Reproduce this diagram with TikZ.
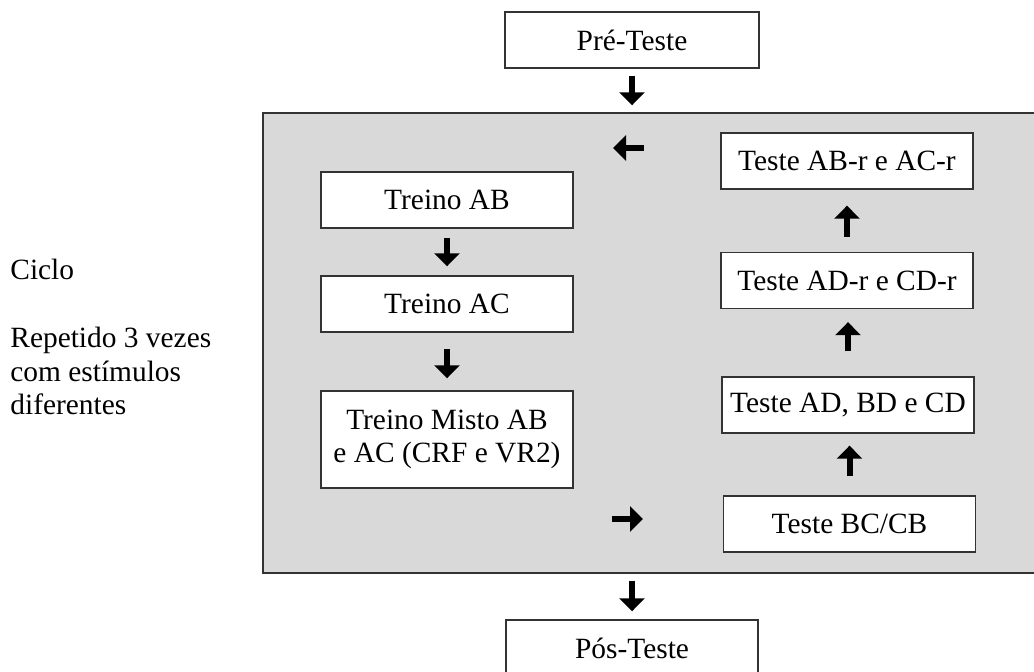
\documentclass[tikz,border=0pt]{standalone}
\usepackage{fontspec}
\setmainfont{Liberation Serif}
\usetikzlibrary{arrows.meta}

\definecolor{panelgray}{HTML}{D9D9D9}
\tikzset{
    stagebox/.style={draw=black!80, line width=0.7pt, fill=white, minimum width=126pt, minimum height=28pt, inner sep=0pt, align=center},
    flowarrow/.style={line width=3pt, -{Triangle[length=6.5pt,width=12.5pt]}}
}

\begin{document}
\begin{tikzpicture}[x=0.5pt, y=-0.5pt, font=\fontsize{14.7pt}{16.75pt}\selectfont]
    \useasboundingbox (0,0) rectangle (1034,672);

    % Draw the cycle panel
    \node[draw=black!80, line width=0.7pt, fill=panelgray, minimum width=388.5pt, minimum height=230pt, inner sep=0pt] (panel) at (651.5,343) {};

    % Draw the pre and post tests
    \node[stagebox, minimum width=127pt] (pre) at (632,40) {Pré-Teste};
    \node[stagebox] (pos) at (632,648) {Pós-Teste};

    % Draw the training boxes
    \node[stagebox] (ab) at (447,200) {Treino AB};
    \node[stagebox] (ac) at (447,304) {Treino AC};
    \node[stagebox, minimum height=48.5pt] (misto) at (447,439.5) {Treino Misto AB\\e AC (CRF e VR2)};

    % Draw the test boxes
    \node[stagebox] (abr) at (847,161) {Teste AB-r e AC-r};
    \node[stagebox] (adr) at (847,280.5) {Teste AD-r e CD-r};
    \node[stagebox] (adbd) at (848,405) {Teste AD, BD e CD};
    \node[stagebox] (bccb) at (849.5,524) {Teste BC/CB};

    % Label the cycle
    \node[anchor=base west, align=left, inner sep=0pt] (ciclo) at (10,415) {Ciclo\\[17.5pt]Repetido 3 vezes\\com estímulos\\diferentes};

    % Draw the arrows between the boxes
    \draw[flowarrow, shorten <=3.5pt, shorten >=3.5pt] (pre.south) -- (pre.south |- panel.north);
    \draw[flowarrow, shorten <=3.5pt, shorten >=4pt] (pos.north |- panel.south) -- (pos.north);
    \foreach \from/\to/\s/\e in {ab/ac/4.75pt/4.5pt, ac/misto/8pt/6pt}
        \draw[flowarrow, shorten <=\s, shorten >=\e] (\from.south) -- (\from.south |- \to.north);
    \foreach \from/\to/\s/\e in {bccb/adbd/9.5pt/6pt, adbd/adr/12.5pt/6.5pt, adr/abr/7.5pt/8pt}
        \draw[flowarrow, shorten <=\s, shorten >=\e] (\from.north) -- (\from.north |- \to.south);

    % Draw the loop arrows
    \coordinate (backstart) at (644,148);
    \coordinate (backend) at (613,148);
    \coordinate (gostart) at (612,519);
    \coordinate (goend) at (643,519);
    \draw[flowarrow] (backstart) -- (backend);
    \draw[flowarrow] (gostart) -- (goend);

\end{tikzpicture}
\end{document}
